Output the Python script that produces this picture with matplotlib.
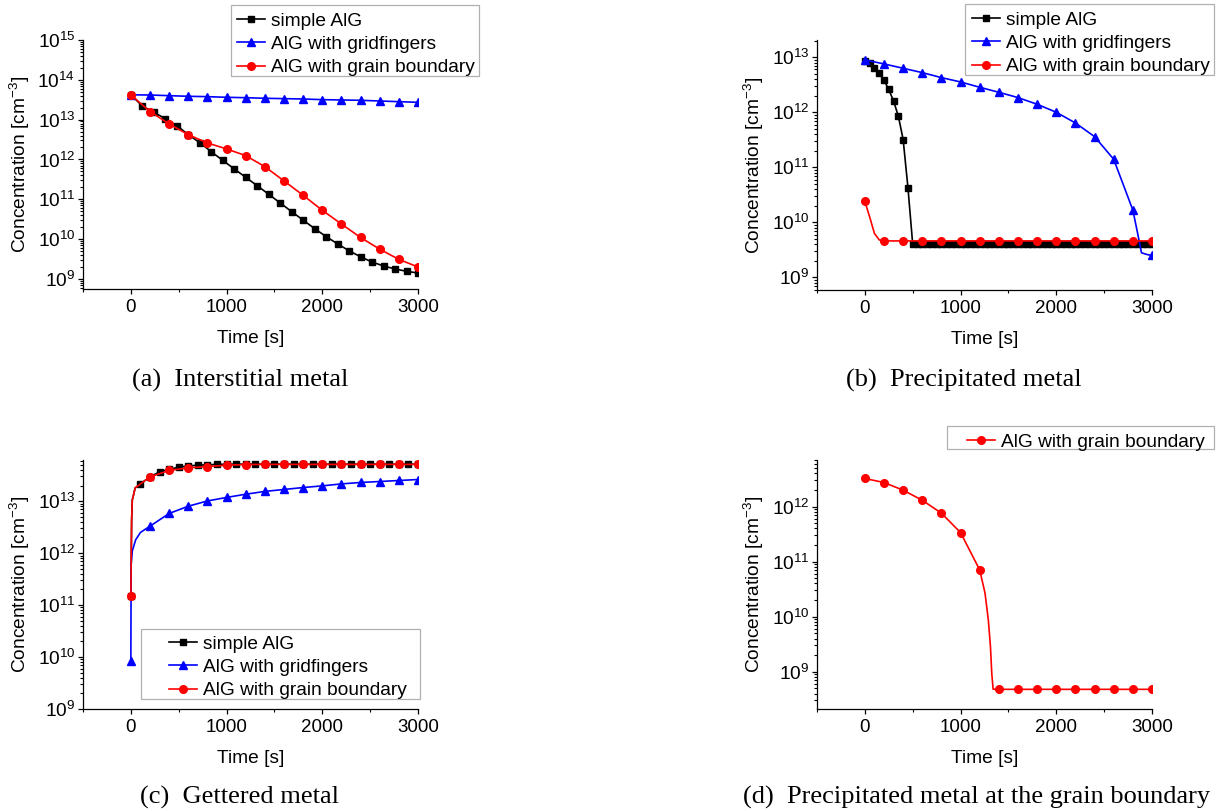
import math
import matplotlib
matplotlib.use("Agg")
import matplotlib.pyplot as plt
from matplotlib.patches import Rectangle
from matplotlib.ticker import LogLocator, FuncFormatter, MultipleLocator, NullFormatter

plt.rcParams["font.family"] = ["Liberation Sans", "DejaVu Sans"]
plt.rcParams["mathtext.fontset"] = "custom"
plt.rcParams["mathtext.rm"] = "Liberation Sans"
plt.rcParams["mathtext.it"] = "Liberation Sans:italic"
plt.rcParams["mathtext.bf"] = "Liberation Sans:bold"

# ---------------- data ----------------
labels = ["simple AlG", "AlG with gridfingers", "AlG with grain boundary"]
colors = ["#000000", "#0000FF", "#FF0000"]
markers = ["s", "^", "o"]

# (a) interstitial metal
a_black_t = [0, 120, 240, 360, 480, 600, 720, 840, 960, 1080, 1200, 1320, 1440,
             1560, 1680, 1800, 1920, 2040, 2160, 2280, 2400, 2520, 2640, 2760, 2880, 3000]
a_black = [4.2e13, 2.2e13, 1.53e13, 1.06e13, 7.1e12, 4.2e12, 2.65e12, 1.57e12, 9.5e11,
           5.8e11, 3.57e11, 2.2e11, 1.34e11, 8.1e10, 4.9e10, 3.0e10, 1.84e10, 1.16e10,
           7.6e9, 5.1e9, 3.6e9, 2.67e9, 2.12e9, 1.78e9, 1.56e9, 1.41e9]
a_t = [0, 200, 400, 600, 800, 1000, 1200, 1400, 1600, 1800, 2000, 2200, 2400, 2600, 2800, 3000]
a_blue = [4.2e13, 4.16e13, 4.0e13, 3.86e13, 3.78e13, 3.64e13, 3.56e13, 3.44e13, 3.37e13,
          3.30e13, 3.18e13, 3.12e13, 3.06e13, 2.94e13, 2.83e13, 2.72e13]
a_red = [4.2e13, 1.6e13, 7.8e12, 4.2e12, 2.6e12, 1.84e12, 1.25e12, 6.6e11, 2.9e11,
         1.26e11, 5.3e10, 2.4e10, 1.1e10, 5.6e9, 3.1e9, 2.0e9]

# (b) precipitated metal
b_black_t = list(range(0, 3001, 50))
b_black = ([8.6e12, 7.8e12, 6.5e12, 5.1e12, 3.8e12, 2.6e12, 1.6e12, 8.5e11, 3.2e11, 4.3e10]
           + [4.0e9] * 51)
b_blue_t = [0, 200, 400, 600, 800, 1000, 1200, 1400, 1600, 1800, 2000, 2200, 2400, 2600,
            2800, 2850, 2890, 2950, 3000]
b_blue = [8.95e12, 7.57e12, 6.31e12, 5.26e12, 4.27e12, 3.56e12, 2.85e12, 2.31e12, 1.85e12,
          1.40e12, 1.0e12, 6.4e11, 3.61e11, 1.40e11, 1.67e10, 6.3e9, 2.8e9, 2.6e9, 2.5e9]
b_blue_mark = list(range(0, 15)) + [18]
b_red_t = [0, 50, 100, 150, 200, 400, 600, 800, 1000, 1200, 1400, 1600, 1800, 2000, 2200,
           2400, 2600, 2800, 3000]
b_red = [2.4e10, 1.26e10, 6.3e9, 4.8e9] + [4.6e9] * 15
b_red_mark = [0] + list(range(4, 19))

# (c) gettered metal
c_black_t = [0, 8, 15, 45] + list(range(100, 3001, 100))
c_black = ([1.49e11, 4.3e12, 1.05e13, 1.8e13, 2.15e13, 2.94e13, 3.66e13, 4.12e13, 4.5e13,
            4.78e13, 4.92e13, 5.03e13, 5.1e13] + [5.15e13] * 21)
c_black_mark = [0] + list(range(4, 34))
c_blue_t = [0, 3, 15, 50, 100] + list(range(200, 3001, 200))
c_blue = [8.5e9, 6.0e11, 1.1e12, 1.8e12, 2.5e12, 3.3e12, 5.8e12, 8.0e12, 1.01e13, 1.18e13,
          1.36e13, 1.54e13, 1.68e13, 1.83e13, 1.97e13, 2.15e13, 2.29e13, 2.39e13, 2.5e13,
          2.61e13]
c_blue_mark = [0] + list(range(5, 20))
c_red_t = [0, 8, 15, 45] + list(range(200, 3001, 200))
c_red = ([1.49e11, 4.3e12, 1.05e13, 1.8e13, 2.93e13, 3.9e13, 4.38e13, 4.64e13, 4.92e13,
          5.07e13] + [5.1e13] * 9)
c_red_mark = [0] + list(range(4, 19))

# (d) precipitated metal at the grain boundary
d_t = [0, 200, 400, 600, 800, 1000, 1200, 1255, 1290, 1312, 1326, 1340,
       1400, 1600, 1800, 2000, 2200, 2400, 2600, 2800, 3000]
d_red = [3.23e12, 2.73e12, 1.98e12, 1.30e12, 7.57e11, 3.36e11, 7.05e10, 2.7e10, 8.7e9,
         2.9e9, 9.3e8, 4.8e8] + [4.78e8] * 9
d_mark = list(range(0, 7)) + list(range(12, 21))

captions = ["(a)  Interstitial metal", "(b)  Precipitated metal",
            "(c)  Gettered metal", "(d)  Precipitated metal at the grain boundary"]

# ---------------- figure ----------------
W, H = 1220, 811
fig = plt.figure(figsize=(W / 100, H / 100), dpi=100)


def px_axes(x0, y0, x1, y1):
    return fig.add_axes([x0 / W, 1 - y1 / H, (x1 - x0) / W, (y1 - y0) / H])


def decade_label(v, pos):
    return r"$\mathregular{10^{%d}}$" % round(math.log10(v))


def style(ax, ylim):
    ax.set_yscale("log")
    ax.set_xlim(-500, 3000)
    ax.set_ylim(*ylim)
    for s in ("top", "right"):
        ax.spines[s].set_visible(False)
    for s in ("left", "bottom"):
        ax.spines[s].set_linewidth(0.9)
    ax.xaxis.set_major_locator(MultipleLocator(1000))
    ax.xaxis.set_minor_locator(MultipleLocator(500))
    ax.yaxis.set_major_locator(LogLocator(base=10, numticks=20))
    ax.yaxis.set_minor_locator(LogLocator(base=10, subs=tuple(range(2, 10)), numticks=20))
    ax.yaxis.set_minor_formatter(NullFormatter())
    ax.yaxis.set_major_formatter(FuncFormatter(decade_label))
    ax.tick_params(axis="both", which="major", direction="out", length=3.5, width=0.9,
                   labelsize=13.5)
    ax.tick_params(axis="y", which="major", labelsize=13.8)
    ax.tick_params(axis="both", which="minor", direction="out", length=2, width=0.8)
    ax.tick_params(axis="x", pad=4)
    ax.tick_params(axis="y", pad=2)
    ax.set_xlabel("Time [s]", fontsize=13.8, labelpad=10)
    ax.set_ylabel(r"Concentration [cm$^{\mathregular{-3}}$]", fontsize=13.8, labelpad=4)


def series(ax, t, y, k, mark=None):
    ax.plot(t, y, color=colors[k], marker=markers[k], lw=1.2,
            ms=5.5 if k else 5.0, markevery=mark, label=labels[k])


def legend(ax, box, handle_x, first_row_y):
    """Frameless figure legend with its entries starting at handle_x, inside a drawn box."""
    x0, y0, x1, y1 = box
    fig.add_artist(Rectangle((x0 / W, 1 - y1 / H), (x1 - x0) / W, (y1 - y0) / H,
                             transform=fig.transFigure, facecolor="white",
                             edgecolor="#b0b0b0", linewidth=0.9, zorder=3))
    h, l = ax.get_legend_handles_labels()
    lg = fig.legend(h, l, loc="upper left",
                    bbox_to_anchor=(handle_x / W, 1 - (first_row_y - 6.5) / H),
                    bbox_transform=fig.transFigure, borderaxespad=0, borderpad=0,
                    fontsize=13.8, frameon=False, handlelength=1.45, handletextpad=0.3,
                    labelspacing=0.3)
    lg.set_zorder(4)


# (a)
ax = px_axes(83, 40, 418, 289)
series(ax, a_black_t, a_black, 0)
series(ax, a_t, a_blue, 1)
series(ax, a_t, a_red, 2)
style(ax, (5.6e8, 1e15))
legend(ax, (231, 5, 479, 76), 237, 19)

# (b)
ax = px_axes(817, 40, 1152, 290)
series(ax, b_black_t, b_black, 0)
series(ax, b_blue_t, b_blue, 1, b_blue_mark)
series(ax, b_red_t, b_red, 2, b_red_mark)
style(ax, (5.9e8, 2.06e13))
legend(ax, (965, 4, 1214, 75), 972, 18)

# (c)
ax = px_axes(83, 460, 418, 709)
series(ax, c_black_t, c_black, 0, c_black_mark)
series(ax, c_blue_t, c_blue, 1, c_blue_mark)
series(ax, c_red_t, c_red, 2, c_red_mark)
style(ax, (1e9, 6.2e13))
legend(ax, (141, 629, 420, 699), 169, 642)

# (d)
ax = px_axes(817, 460, 1152, 709)
series(ax, d_t, d_red, 2, d_mark)
style(ax, (2.1e8, 7e12))
legend(ax, (947, 426, 1214, 449), 967, 440)

# sub-figure captions
cap_pos = [(240, 380), (964, 380), (240, 797), (977, 797)]
for (cx, cy), text in zip(cap_pos, captions):
    fig.text(cx / W, 1 - cy / H, text, ha="center", va="center", fontsize=19,
             family=["Liberation Serif", "DejaVu Serif"])

fig.savefig("out.png", dpi=100)
